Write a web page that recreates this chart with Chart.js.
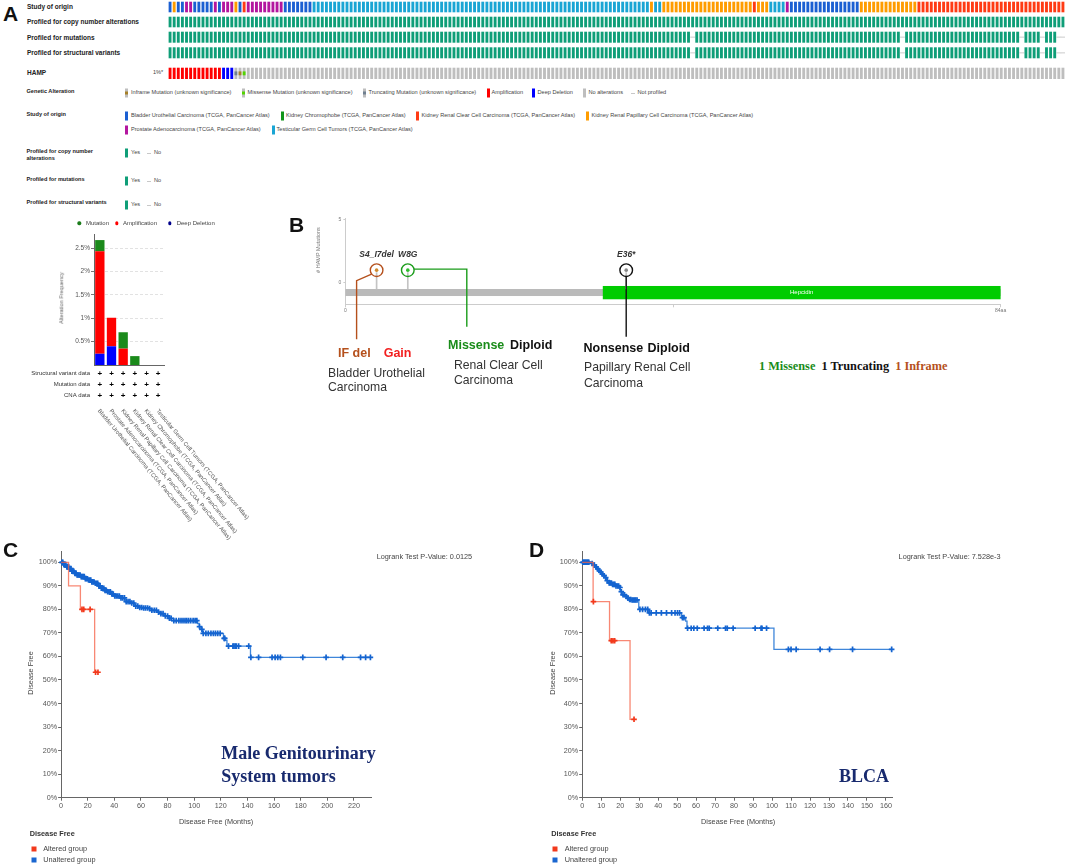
<!DOCTYPE html>
<html lang="en">
<head>
<meta charset="UTF-8">
<meta name="viewport" content="width=device-width, initial-scale=1.0">
<title>HAMP - alterations, mutations and disease free survival</title>
<script src="https://cdn.jsdelivr.net/npm/chart.js@4.4.1/dist/chart.umd.min.js"></script>
<style>
  body { margin: 0; background: #fff; font-family: "Liberation Sans", Arial, sans-serif; }
  #fig { position: relative; width: 1065px; height: 865px; overflow: hidden; }
  #fig canvas { position: absolute; }
  .t { position: absolute; white-space: nowrap; line-height: 1; transform: translateY(-50%); }
  .c { transform: translate(-50%, -50%); }
  .rot { transform: translate(-50%, -50%) rotate(-90deg); }
  .letter { font-size: 21px; font-weight: bold; color: #111; }
  .row { font-size: 6.5px; font-weight: bold; color: #222; }
  .lg-title { font-size: 5.6px; font-weight: bold; color: #222; }
  .lg { font-size: 5.6px; color: #444; }
  .sw { position: absolute; width: 3px; height: 9px; transform: translateY(-50%); }
  .sw i { position: absolute; left: 0; top: 3px; width: 3px; height: 3px; }
  .dash { position: absolute; width: 4px; height: 1px; background: #c8c8c8; }
  .dot { position: absolute; width: 3.4px; height: 3.4px; border-radius: 50%; transform: translate(-50%, -50%); }
  .small { font-size: 6px; color: #444; }
  .bl { font-size: 12.2px; color: #333; }
  .bb { font-size: 12.5px; font-weight: bold; }
  .serif { font-family: "Liberation Serif", "Times New Roman", serif; font-weight: bold; }
  .km { font-size: 7.3px; color: #444; }
  .sq { position: absolute; width: 5px; height: 5px; transform: translate(-50%, -50%); }
</style>
</head>
<body>
<div id="fig">
  <canvas id="oncoChart" width="897" height="82" style="left:168px;top:0px"></canvas>
  <canvas id="freqChart" width="300" height="330" style="left:0px;top:215px"></canvas>
  <canvas id="lolliChart" width="720" height="140" style="left:290px;top:210px"></canvas>
  <canvas id="kmC" width="530" height="325" style="left:0px;top:540px"></canvas>
  <canvas id="kmD" width="535" height="325" style="left:530px;top:540px"></canvas>

  <!-- panel A : oncoprint -->
  <div class="t letter" style="left:3px;top:12.5px">A</div>
  <div class="t row" style="left:27px;top:7px">Study of origin</div>
  <div class="t row" style="left:27px;top:22.3px">Profiled for copy number alterations</div>
  <div class="t row" style="left:27px;top:37.7px">Profiled for mutations</div>
  <div class="t row" style="left:27px;top:53px">Profiled for structural variants</div>
  <div class="t row" style="left:27px;top:73px">HAMP</div>
  <div class="t lg" style="left:153px;top:73px">1%*</div>

  <div class="t lg-title" style="left:26.5px;top:91.7px">Genetic Alteration</div>
  <div class="sw" style="left:125px;top:93.3px;background:#bebebe"><i style="background:#a68028"></i></div>
  <div class="t lg" style="left:131px;top:93.3px">Inframe Mutation (unknown significance)</div>
  <div class="sw" style="left:241.5px;top:93.3px;background:#bebebe"><i style="background:#53d400"></i></div>
  <div class="t lg" style="left:247.5px;top:93.3px">Missense Mutation (unknown significance)</div>
  <div class="sw" style="left:362.5px;top:93.3px;background:#bebebe"><i style="background:#708090"></i></div>
  <div class="t lg" style="left:368.5px;top:93.3px">Truncating Mutation (unknown significance)</div>
  <div class="sw" style="left:486.5px;top:93.3px;background:#ff0000"></div>
  <div class="t lg" style="left:491.5px;top:93.3px">Amplification</div>
  <div class="sw" style="left:532px;top:93.3px;background:#0000ff"></div>
  <div class="t lg" style="left:537.5px;top:93.3px">Deep Deletion</div>
  <div class="sw" style="left:583px;top:93.3px;background:#bebebe"></div>
  <div class="t lg" style="left:588.5px;top:93.3px">No alterations</div>
  <div class="dash" style="left:631px;top:93px"></div>
  <div class="t lg" style="left:637.5px;top:93.3px">Not profiled</div>

  <div class="t lg-title" style="left:26.5px;top:115px">Study of origin</div>
  <div class="sw" style="left:125px;top:116px;background:#1b5fd2"></div>
  <div class="t lg" style="left:131px;top:116px">Bladder Urothelial Carcinoma (TCGA, PanCancer Atlas)</div>
  <div class="sw" style="left:280.5px;top:116px;background:#10961a"></div>
  <div class="t lg" style="left:286px;top:116px">Kidney Chromophobe (TCGA, PanCancer Atlas)</div>
  <div class="sw" style="left:415.5px;top:116px;background:#ff3b14"></div>
  <div class="t lg" style="left:421.5px;top:116px">Kidney Renal Clear Cell Carcinoma (TCGA, PanCancer Atlas)</div>
  <div class="sw" style="left:585.5px;top:116px;background:#ff9c00"></div>
  <div class="t lg" style="left:591.5px;top:116px">Kidney Renal Papillary Cell Carcinoma (TCGA, PanCancer Atlas)</div>
  <div class="sw" style="left:125px;top:130px;background:#b3169f"></div>
  <div class="t lg" style="left:131px;top:130px">Prostate Adenocarcinoma (TCGA, PanCancer Atlas)</div>
  <div class="sw" style="left:271.5px;top:130px;background:#1aa5d4"></div>
  <div class="t lg" style="left:276.5px;top:130px">Testicular Germ Cell Tumors (TCGA, PanCancer Atlas)</div>

  <div class="t lg-title" style="left:26.5px;top:151.7px">Profiled for copy number</div>
  <div class="t lg-title" style="left:26.5px;top:159px">alterations</div>
  <div class="sw" style="left:125px;top:153px;background:#0f9e78"></div>
  <div class="t lg" style="left:131px;top:153px">Yes</div>
  <div class="dash" style="left:147px;top:153px"></div>
  <div class="t lg" style="left:154px;top:153px">No</div>
  <div class="t lg-title" style="left:26.5px;top:180px">Profiled for mutations</div>
  <div class="sw" style="left:125px;top:181px;background:#0f9e78"></div>
  <div class="t lg" style="left:131px;top:181px">Yes</div>
  <div class="dash" style="left:147px;top:181px"></div>
  <div class="t lg" style="left:154px;top:181px">No</div>
  <div class="t lg-title" style="left:26.5px;top:203.3px">Profiled for structural variants</div>
  <div class="sw" style="left:125px;top:205px;background:#0f9e78"></div>
  <div class="t lg" style="left:131px;top:205px">Yes</div>
  <div class="dash" style="left:147px;top:205px"></div>
  <div class="t lg" style="left:154px;top:205px">No</div>

  <!-- panel A : frequency bar chart legend -->
  <div class="dot" style="left:79.3px;top:223.3px;background:#1b7c1b"></div>
  <div class="t small" style="left:86px;top:223.3px">Mutation</div>
  <div class="dot" style="left:116.7px;top:223.3px;background:#ff0000"></div>
  <div class="t small" style="left:123px;top:223.3px">Amplification</div>
  <div class="dot" style="left:170px;top:223.3px;background:#00008b"></div>
  <div class="t small" style="left:176.7px;top:223.3px">Deep Deletion</div>
  <div class="t rot small" style="left:61.7px;top:298.3px;font-size:5.6px;color:#666">Alteration Frequency</div>

  <!-- panel B -->
  <div class="t letter" style="left:289px;top:224px">B</div>
  <div class="t rot" style="left:318.6px;top:250px;font-size:5.5px;color:#777"># HAMP Mutations</div>
  <div class="t bb" style="left:338px;top:352.7px;color:#b5501c">IF del</div>
  <div class="t bb" style="left:383.7px;top:352.7px;color:#f21f1f">Gain</div>
  <div class="t bl" style="left:328px;top:373px">Bladder Urothelial</div>
  <div class="t bl" style="left:328px;top:387px">Carcinoma</div>
  <div class="t bb" style="left:448px;top:345px;color:#1a8c1a">Missense</div>
  <div class="t bb" style="left:510px;top:345px;color:#111">Diploid</div>
  <div class="t bl" style="left:454px;top:365px">Renal Clear Cell</div>
  <div class="t bl" style="left:454px;top:380px">Carcinoma</div>
  <div class="t bb" style="left:583.5px;top:348px;color:#111">Nonsense</div>
  <div class="t bb" style="left:647.5px;top:348px;color:#111">Diploid</div>
  <div class="t bl" style="left:584px;top:367px">Papillary Renal Cell</div>
  <div class="t bl" style="left:584px;top:383px">Carcinoma</div>
  <div class="t serif" style="left:759px;top:365.7px;font-size:12.3px">
    <span style="color:#1a8c1a">1 Missense</span>&nbsp; <span style="color:#111">1 Truncating</span>&nbsp; <span style="color:#b5501c">1 Inframe</span>
  </div>

  <!-- panel C -->
  <div class="t letter" style="left:3px;top:549px">C</div>
  <div class="t km" style="left:376.7px;top:556.7px">Logrank Test P-Value: 0.0125</div>
  <div class="t serif" style="left:221.3px;top:753.3px;font-size:18px;color:#182a6e">Male Genitourinary</div>
  <div class="t serif" style="left:221.3px;top:776px;font-size:18px;color:#182a6e">System tumors</div>
  <div class="t rot km" style="left:31.4px;top:673.3px">Disease Free</div>
  <div class="t c km" style="left:216.2px;top:821.7px">Disease Free (Months)</div>
  <div class="t km" style="left:29.7px;top:834px;font-weight:bold;color:#333">Disease Free</div>
  <div class="sq" style="left:33.8px;top:849.3px;background:#f2391c"></div>
  <div class="t km" style="left:43.2px;top:849.3px">Altered group</div>
  <div class="sq" style="left:33.8px;top:860px;background:#1a66d0"></div>
  <div class="t km" style="left:43.2px;top:860px">Unaltered group</div>

  <!-- panel D -->
  <div class="t letter" style="left:529px;top:549px">D</div>
  <div class="t km" style="left:898.6px;top:556.7px">Logrank Test P-Value: 7.528e-3</div>
  <div class="t serif" style="left:838.9px;top:776px;font-size:18px;color:#182a6e">BLCA</div>
  <div class="t rot km" style="left:552.5px;top:673.3px">Disease Free</div>
  <div class="t c km" style="left:738.2px;top:821.7px">Disease Free (Months)</div>
  <div class="t km" style="left:551.2px;top:834px;font-weight:bold;color:#333">Disease Free</div>
  <div class="sq" style="left:554.9px;top:849.3px;background:#f2391c"></div>
  <div class="t km" style="left:564.8px;top:849.3px">Altered group</div>
  <div class="sq" style="left:554.9px;top:860px;background:#1a66d0"></div>
  <div class="t km" style="left:564.8px;top:860px">Unaltered group</div>
</div>

<script>
// ---------- data ----------

// oncoprint: study of each sample column, as runs [study, count]
const studyCodes = ['BLCA', 'KICH', 'KIRC', 'KIRP', 'PRAD', 'TGCT'];
const studyColors = ['#1b5fd2', '#10961a', '#ff3b14', '#ff9c00', '#b3169f', '#1aa5d4'];
const studyRuns = [
    ['BLCA', 1], ['KIRP', 1], ['BLCA', 2], ['PRAD', 2], ['BLCA', 5], ['PRAD', 1], ['BLCA', 1],
    ['PRAD', 3], ['KIRP', 1], ['BLCA', 1], ['KIRC', 1], ['PRAD', 9], ['BLCA', 7], ['TGCT', 82],
    ['KIRP', 1], ['TGCT', 2], ['KIRP', 22], ['KIRC', 1], ['KIRP', 3], ['TGCT', 4], ['PRAD', 1],
    ['BLCA', 17], ['KIRP', 14], ['KIRC', 36]
];
// HAMP alteration of the first columns, the rest are unaltered
const hampRuns = [['AMP', 13], ['HOMDEL', 3], ['TRUNC', 1], ['INFRAME', 1], ['MISSENSE', 1]];
// columns not profiled for mutations / structural variants
const notProfiledMut = [127, 178, 207, 212, 216, 217];
const notProfiledSv = [127, 178, 207, 212, 216, 217];

// alteration frequency per study (%)
const freqLabels = [
    'Bladder Urothelial Carcinoma (TCGA, PanCancer Atlas)',
    'Prostate Adenocarcinoma (TCGA, PanCancer Atlas)',
    'Kidney Renal Papillary Cell Carcinoma (TCGA, PanCancer Atlas)',
    'Kidney Renal Clear Cell Carcinoma (TCGA, PanCancer Atlas)',
    'Kidney Chromophobe (TCGA, PanCancer Atlas)',
    'Testicular Germ Cell Tumors (TCGA, PanCancer Atlas)'
];
const freqDeepDel = [0.24, 0.40, 0, 0, 0, 0];
const freqAmp = [2.19, 0.61, 0.35, 0, 0, 0];
const freqMut = [0.24, 0, 0.35, 0.19, 0, 0];
const freqTicks = [0.5, 1, 1.5, 2, 2.5];
const profiledRows = ['Structural variant data', 'Mutation data', 'CNA data'];

// lollipop plot
const proteinLength = 84;
const domainName = 'Hepcidin';
const domainStart = 33;
const domainEnd = 84;
const mutPos = [4, 8, 36];
const mutCount = [1, 1, 1];
const mutNames = ['S4_I7del', 'W8G', 'E36*'];
const lolliXTicks = [0, 42, 84];
const lolliYTicks = [0, 5];

// Kaplan-Meier, panel C (male genitourinary tumors)
const cAltT = [0, 5.6, 14.5, 25.2];
const cAltS = [100, 90, 80, 53.3];
const cAltCens = [15.7, 17, 21.8, 25.9, 27.7];
const cUnaltT = [0, 2, 4, 6, 8, 10, 12, 15, 18, 20, 23, 25, 28, 30, 33, 35, 38, 40, 44, 48, 52, 55, 58, 61,
    66, 68, 72, 75, 78, 81, 83, 102.5, 103.8, 105, 106.3, 122, 123.5, 124.6, 142.3];
const cUnaltS = [100, 99, 98, 97.3, 96.2, 95.3, 94.6, 93.9, 93, 92.5, 91.6, 91.1, 90, 89, 88, 87.5, 86.5, 85.7,
    84.9, 83.3, 82.7, 81.4, 80.8, 80.6, 80.3, 79.6, 78.8, 78.2, 77.2, 76.2, 75.2, 74, 72.7, 71.5, 69.8,
    67.7, 66.8, 64.4, 59.6];
const cUnaltCens = [0.6, 1.3, 2.1, 2.8, 3.5, 4.3, 5.1, 5.8, 6.6, 7.4, 8.1, 8.9, 9.6, 10.4, 11.2, 12, 12.7, 13.5,
    14.3, 15.1, 15.8, 16.6, 17.4, 18.2, 19, 19.8, 20.6, 21.4, 22.3, 23.1, 24, 24.8, 25.7, 26.6, 27.5, 28.4,
    29.3, 30.2, 31.1, 32.1, 33, 34, 35, 36, 37, 38.1, 39.2, 40.3, 41.4, 42.6, 43.8, 45, 46.3, 47.6, 48.9,
    50.3, 51.7, 53.1, 54.6, 56.1, 57.6, 59.1, 60.6, 62.1, 63.5, 65, 66.5, 68.2, 70, 71.6, 73.2, 75, 76.6,
    78.3, 80, 81.4, 82.7, 84.7, 86.5, 88.5, 90.1, 91.6, 93.1, 94.4, 95.8, 97.4, 99.2, 100.7, 102, 104,
    105.8, 106.8, 108.8, 110.6, 112.6, 114.4, 116, 117.7, 119.5, 122.5, 123, 125.8, 129.1, 129.9, 130.9,
    131.7, 133.4, 141, 142.6, 148.4, 158.5, 160.8, 162.8, 164.8, 181.6, 199.1, 211.6, 225, 228.8, 232.4];
const cXTicks = [0, 20, 40, 60, 80, 100, 120, 140, 160, 180, 200, 220];

// Kaplan-Meier, panel D (BLCA)
const dAltT = [0, 5.75, 14.4, 25.2];
const dAltS = [100, 83.3, 66.7, 33.3];
const dAltCens = [5.9, 15.3, 16.2, 17.1, 27.3];
const dUnaltT = [0, 4.5, 6, 7, 7.8, 8.6, 9.4, 10.2, 11.1, 12, 12.9, 13.8, 15.5, 17.4, 19.6, 20.1, 21, 22.8,
    23.7, 24.6, 26, 29.8, 35, 52.3, 54.5, 55.2, 101];
const dUnaltS = [100, 99.5, 98.8, 98, 97.2, 96.5, 95.8, 95, 94.3, 93.5, 92.2, 91.2, 90.6, 89.9, 89.3, 87.5,
    86.2, 85.5, 84.8, 84.2, 84, 80, 78.5, 76.5, 75, 72, 63];
const dUnaltCens = [0.3, 0.7, 1.1, 1.5, 1.9, 2.3, 2.7, 3.1, 3.5, 5.2, 6.4, 7.4, 8.2, 9, 9.8, 10.6, 11.5, 12.4,
    13.2, 14.2, 14.8, 15.4, 16, 16.6, 17.2, 17.8, 18.6, 19.2, 19.9, 20.6, 21.5, 22.3, 23.2, 24.1, 25, 25.6,
    26.3, 27, 27.6, 28.2, 28.9, 30.4, 31.8, 33.3, 34.5, 35.4, 36.3, 39, 41.7, 44.4, 47.1, 48.9, 50.2, 51.3,
    52.8, 53.6, 55.5, 57.4, 58.8, 60.6, 64.2, 66, 66.9, 71.4, 75.5, 76.4, 79.5, 91.1, 94.2, 94.7, 97.1,
    108.6, 110, 112.7, 125.3, 130.3, 142.4, 163];
const dXTicks = [0, 10, 20, 30, 40, 50, 60, 70, 80, 90, 100, 110, 120, 130, 140, 150, 160];
const kmYTicks = [0, 10, 20, 30, 40, 50, 60, 70, 80, 90, 100];

// ---------- common settings ----------
const FONT = '"Liberation Sans", Arial, sans-serif';
Chart.defaults.font.family = FONT;
Chart.defaults.animation = false;
Chart.defaults.responsive = false;
Chart.defaults.devicePixelRatio = 1;
Chart.defaults.plugins.legend.display = false;
Chart.defaults.plugins.tooltip.enabled = false;

function useTicks(list) {
    return function (scale) { scale.ticks = list.map(v => ({ value: v })); };
}

// ---------- oncoprint ----------
const studyOf = [];
studyRuns.forEach(([s, n]) => { for (let k = 0; k < n; k++) studyOf.push(s); });
const hampOf = studyOf.map(() => 'NONE');
let pos = 0;
hampRuns.forEach(([a, n]) => { for (let k = 0; k < n; k++) hampOf[pos++] = a; });
const columns = studyOf.map((s, i) => i);

// vertical placement of each track (pixels inside the canvas)
const TRACK = {
    study: [1.7, 12.3], cna: [16.7, 27.3], mut: [31.7, 42.7], sv: [47.3, 58.3],
    hamp: [67.7, 79], hampMid: [71.4, 75.3], npMut: [36.8, 37.6], npSv: [52.4, 53.2]
};
const profiledColor = '#0f9e78';

const oncoSets = [
    { data: hampOf.map(a => a === 'TRUNC' ? TRACK.hampMid : null), backgroundColor: '#708090' },
    { data: hampOf.map(a => a === 'INFRAME' ? TRACK.hampMid : null), backgroundColor: '#a68028' },
    { data: hampOf.map(a => a === 'MISSENSE' ? TRACK.hampMid : null), backgroundColor: '#53d400' },
    { data: hampOf.map(a => a === 'AMP' ? TRACK.hamp : null), backgroundColor: '#ff0000' },
    { data: hampOf.map(a => a === 'HOMDEL' ? TRACK.hamp : null), backgroundColor: '#0000ff' },
    { data: hampOf.map(a => (a === 'AMP' || a === 'HOMDEL') ? null : TRACK.hamp), backgroundColor: '#bebebe' },
    { data: columns.map(() => TRACK.cna), backgroundColor: profiledColor },
    { data: columns.map(i => notProfiledMut.includes(i) ? null : TRACK.mut), backgroundColor: profiledColor },
    { data: columns.map(i => notProfiledMut.includes(i) ? TRACK.npMut : null), backgroundColor: '#dcdcdc', barPercentage: 1 },
    { data: columns.map(i => notProfiledSv.includes(i) ? null : TRACK.sv), backgroundColor: profiledColor },
    { data: columns.map(i => notProfiledSv.includes(i) ? TRACK.npSv : null), backgroundColor: '#dcdcdc', barPercentage: 1 }
];
studyCodes.forEach((code, j) => {
    oncoSets.push({ data: studyOf.map(s => s === code ? TRACK.study : null), backgroundColor: studyColors[j] });
});

new Chart(document.getElementById('oncoChart'), {
    type: 'bar',
    data: { labels: columns, datasets: oncoSets },
    options: {
        datasets: { bar: { grouped: false, barPercentage: 0.7, categoryPercentage: 1 } },
        scales: {
            x: { display: false },
            y: { display: false, min: 0, max: 82, reverse: true }
        }
    }
});

// ---------- alteration frequency ----------
const freqAnnot = {
    id: 'freqAnnot',
    afterDraw(chart) {
        const ctx = chart.ctx, xs = chart.scales.x;
        const rowY = [158.3, 169.3, 180.7];
        ctx.save();
        ctx.fillStyle = '#333';
        ctx.font = '6px ' + FONT;
        ctx.textAlign = 'right';
        ctx.textBaseline = 'middle';
        profiledRows.forEach((r, j) => ctx.fillText(r, 90, rowY[j]));
        ctx.font = 'bold 8px ' + FONT;
        ctx.textAlign = 'center';
        ctx.fillStyle = '#000';
        freqLabels.forEach((l, i) => {
            const x = xs.getPixelForValue(i);
            rowY.forEach(y => ctx.fillText('+', x, y + 0.5));
        });
        ctx.font = '5.8px ' + FONT;
        ctx.textAlign = 'left';
        ctx.fillStyle = '#555';
        freqLabels.forEach((l, i) => {
            const x = xs.getPixelForValue(i);
            ctx.save();
            ctx.translate(x - 1, 195);
            ctx.rotate(50.2 * Math.PI / 180);
            ctx.fillText(l, 0, 0);
            ctx.restore();
        });
        ctx.restore();
    }
};

new Chart(document.getElementById('freqChart'), {
    type: 'bar',
    data: {
        labels: freqLabels,
        datasets: [
            { label: 'Deep Deletion', data: freqDeepDel, backgroundColor: '#0000ff' },
            { label: 'Amplification', data: freqAmp, backgroundColor: '#ff0000' },
            { label: 'Mutation', data: freqMut, backgroundColor: '#1b8a1b' }
        ]
    },
    options: {
        layout: { padding: { left: 0, top: 19, right: 136, bottom: 0 } },
        datasets: { bar: { barPercentage: 0.8, categoryPercentage: 1 } },
        scales: {
            x: {
                stacked: true,
                ticks: { display: false },
                grid: { display: false },
                border: { color: '#666' },
                afterFit: s => { s.height = 180; }
            },
            y: {
                stacked: true, min: 0, max: 2.8,
                afterBuildTicks: useTicks(freqTicks),
                ticks: { callback: v => v + '%', font: { size: 6.5 }, color: '#555', padding: 1 },
                grid: { color: '#e2e2e2', tickColor: '#777', tickLength: 3 },
                border: { color: '#666', dash: [3, 2] },
                afterFit: s => { s.width = 94; }
            }
        }
    },
    plugins: [freqAnnot]
});

// ---------- lollipop plot ----------
const ringColors = ['#b5501c', '#1a9c1a', '#111111'];
const headColors = ['#d08a30', '#2cbf2c', '#888888'];

const lolliDraw = {
    id: 'lolliDraw',
    beforeDatasetsDraw(chart) {
        const ctx = chart.ctx, xs = chart.scales.x, ys = chart.scales.y;
        const x0 = xs.getPixelForValue(0), x1 = xs.getPixelForValue(proteinLength);
        const d0 = xs.getPixelForValue(domainStart), d1 = xs.getPixelForValue(domainEnd);
        ctx.save();
        ctx.fillStyle = '#bababa';
        ctx.fillRect(x0, ys.getPixelForValue(-0.5), x1 - x0, ys.getPixelForValue(-1.06) - ys.getPixelForValue(-0.5));
        ctx.fillStyle = '#00cc00';
        ctx.fillRect(d0, ys.getPixelForValue(-0.26), d1 - d0, ys.getPixelForValue(-1.32) - ys.getPixelForValue(-0.26));
        ctx.fillStyle = '#fff';
        ctx.font = '6px ' + FONT;
        ctx.textAlign = 'center';
        ctx.textBaseline = 'middle';
        ctx.fillText(domainName, (d0 + d1) / 2, ys.getPixelForValue(-0.79));
        ctx.restore();
    },
    afterDraw(chart) {
        const ctx = chart.ctx, xs = chart.scales.x, ys = chart.scales.y;
        ctx.save();
        ctx.font = 'italic bold 8.5px ' + FONT;
        ctx.fillStyle = '#333';
        ctx.textAlign = 'center';
        ctx.textBaseline = 'middle';
        const pts = mutPos.map((p, i) => ({ x: xs.getPixelForValue(p), y: ys.getPixelForValue(mutCount[i]) }));
        pts.forEach((p, i) => ctx.fillText(mutNames[i], p.x, p.y - 15.5));
        // leader lines to the annotations below
        ctx.lineWidth = 1.4;
        ctx.strokeStyle = ringColors[0];
        ctx.beginPath();
        ctx.moveTo(pts[0].x - 5, pts[0].y + 4);
        ctx.lineTo(pts[0].x - 20, pts[0].y + 10.5);
        ctx.lineTo(pts[0].x - 20, 129.3);
        ctx.stroke();
        ctx.strokeStyle = ringColors[1];
        ctx.beginPath();
        ctx.moveTo(pts[1].x + 6.3, pts[1].y - 1);
        ctx.lineTo(pts[1].x + 59, pts[1].y - 1);
        ctx.lineTo(pts[1].x + 59, 116.7);
        ctx.stroke();
        ctx.strokeStyle = ringColors[2];
        ctx.beginPath();
        ctx.moveTo(pts[2].x, pts[2].y + 6.3);
        ctx.lineTo(pts[2].x, 126.7);
        ctx.stroke();
        ctx.restore();
    }
};

const mutPoints = mutPos.map((p, i) => ({ x: p, y: mutCount[i] }));

new Chart(document.getElementById('lolliChart'), {
    type: 'scatter',
    data: {
        datasets: [
            { data: mutPoints, pointRadius: 6.3, pointBorderWidth: 1.4, pointBackgroundColor: 'rgba(0,0,0,0)', pointBorderColor: ringColors, clip: false },
            { data: mutPoints, pointRadius: 1.8, pointBorderWidth: 0, pointBackgroundColor: headColors, clip: false },
            { type: 'bar', data: mutPos.map(p => ({ x: p, y: [-0.5, 0.8] })), backgroundColor: '#c4c4c4', barThickness: 1 }
        ]
    },
    options: {
        layout: { padding: { left: 0, top: 8.1, right: 9.4, bottom: 0 } },
        scales: {
            x: {
                type: 'linear', min: 0, max: proteinLength, offset: false,
                afterBuildTicks: useTicks(lolliXTicks),
                ticks: { callback: v => v === 0 ? '0' : (v === proteinLength ? proteinLength + 'aa' : ''), font: { size: 5 }, color: '#777', padding: 0, maxRotation: 0 },
                grid: { drawOnChartArea: false, offset: false, tickLength: 3, color: '#ccc' },
                border: { color: '#ccc' },
                afterFit: s => { s.height = 45.7; }
            },
            y: {
                min: -1.72, max: 5.15,
                afterBuildTicks: useTicks(lolliYTicks),
                ticks: { font: { size: 5 }, color: '#777', padding: 2 },
                grid: { drawOnChartArea: false, tickLength: 2, color: '#ccc' },
                border: { color: '#ccc' },
                afterFit: s => { s.width = 55.4; }
            }
        }
    },
    plugins: [lolliDraw]
});

// ---------- Kaplan-Meier ----------
function survAt(times, surv, t) {
    let s = surv[0];
    for (let i = 0; i < times.length; i++) if (times[i] <= t) s = surv[i];
    return s;
}
function stepPoints(times, surv, cens) {
    const pts = times.map((t, i) => ({ x: t, y: surv[i] }));
    const end = Math.max(...cens);
    if (end > times[times.length - 1]) pts.push({ x: end, y: surv[surv.length - 1] });
    return pts;
}
function censorPoints(times, surv, cens) {
    return cens.map(t => ({ x: t, y: survAt(times, surv, t) }));
}

function kmChart(id, alt, unalt, xTicks, xMax, area) {
    const red = '#f2391c', blue = '#1464d0';
    return new Chart(document.getElementById(id), {
        type: 'scatter',
        data: {
            datasets: [
                { data: censorPoints(alt.t, alt.s, alt.c), pointStyle: 'cross', pointRadius: 2.8, pointBorderWidth: 1.7, pointBorderColor: red, clip: false },
                { data: stepPoints(alt.t, alt.s, alt.c), showLine: true, stepped: true, borderColor: 'rgba(246,96,70,0.75)', borderWidth: 1.3, pointRadius: 0, clip: false },
                { data: censorPoints(unalt.t, unalt.s, unalt.c), pointStyle: 'cross', pointRadius: 2.8, pointBorderWidth: 1.7, pointBorderColor: blue, clip: false },
                { data: stepPoints(unalt.t, unalt.s, unalt.c), showLine: true, stepped: true, borderColor: '#3f86da', borderWidth: 1.3, pointRadius: 0, clip: false }
            ]
        },
        options: {
            layout: { padding: { left: 0, top: area.top, right: area.right, bottom: 0 } },
            scales: {
                x: {
                    type: 'linear', min: 0, max: xMax,
                    afterBuildTicks: useTicks(xTicks),
                    ticks: { font: { size: 7.2 }, color: '#555', padding: 1, maxRotation: 0, autoSkip: false },
                    grid: { drawOnChartArea: false, tickLength: 3, color: '#666' },
                    border: { color: '#666' },
                    afterFit: s => { s.height = area.xH; }
                },
                y: {
                    min: 0, max: 104.5,
                    afterBuildTicks: useTicks(kmYTicks),
                    ticks: { callback: v => v + '%', font: { size: 7.2 }, color: '#555', padding: 1, autoSkip: false },
                    grid: { drawOnChartArea: false, tickLength: 3, color: '#666' },
                    border: { color: '#666' },
                    afterFit: s => { s.width = area.yW; }
                }
            }
        }
    });
}

kmChart('kmC',
    { t: cAltT, s: cAltS, c: cAltCens },
    { t: cUnaltT, s: cUnaltS, c: cUnaltCens },
    cXTicks, 233.3, { top: 11.7, right: 158.4, xH: 67.3, yW: 61.1 });

kmChart('kmD',
    { t: dAltT, s: dAltS, c: dAltCens },
    { t: dUnaltT, s: dUnaltS, c: dUnaltCens },
    dXTicks, 163.6, { top: 11.7, right: 172.2, xH: 67.3, yW: 52.2 });
</script>
</body>
</html>
